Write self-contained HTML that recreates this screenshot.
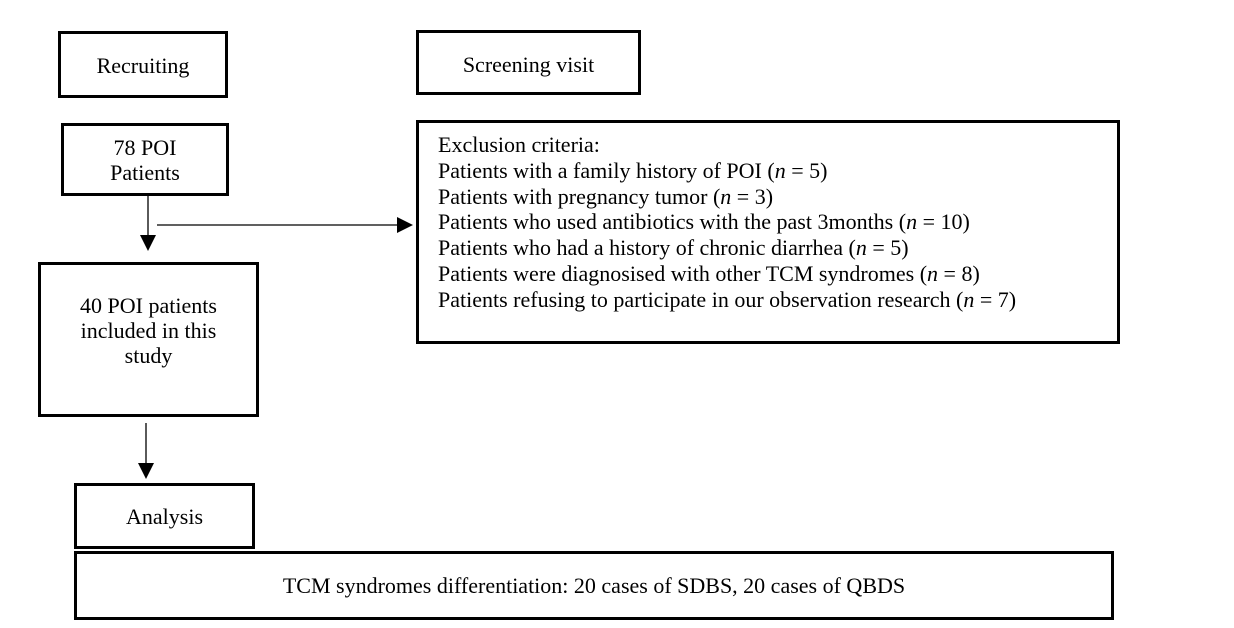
<!DOCTYPE html>
<html><head><style>
body{margin:0;width:1234px;height:628px;background:#fff;position:relative;font-family:"Liberation Serif",serif;font-size:22px;color:#000;overflow:hidden}
.b{position:absolute;border:3px solid #000;box-sizing:border-box;display:flex;align-items:center;justify-content:center;text-align:center;line-height:25px}
.ex{position:absolute;left:416px;top:120px;width:704px;height:224px;border:3px solid #000;box-sizing:border-box;padding:9px 0 0 19px;line-height:25.8px}
</style></head><body>
<div class="b" style="left:58px;top:31px;width:170px;height:67px;padding-top:2px">Recruiting</div>
<div class="b" style="left:416px;top:30px;width:225px;height:65px;padding-top:4px">Screening visit</div>
<div class="b" style="left:61px;top:123px;width:168px;height:73px;padding-top:0px">78 POI<br>Patients</div>
<div class="b" style="left:38px;top:262px;width:221px;height:155px;align-items:flex-start;padding-top:28px">40 POI patients<br>included in this<br>study</div>
<div class="b" style="left:74px;top:483px;width:181px;height:66px;padding-top:1px">Analysis</div>
<div class="b" style="left:74px;top:551px;width:1040px;height:69px;padding-top:0px">TCM syndromes differentiation: 20 cases of SDBS, 20 cases of QBDS</div>
<div class="ex">Exclusion criteria:<br>Patients with a family history of POI (<i>n</i> = 5)<br>Patients with pregnancy tumor (<i>n</i> = 3)<br>Patients who used antibiotics with the past 3months (<i>n</i> = 10)<br>Patients who had a history of chronic diarrhea (<i>n</i> = 5)<br>Patients were diagnosised with other TCM syndromes (<i>n</i> = 8)<br>Patients refusing to participate in our observation research (<i>n</i> = 7)</div>
<svg width="1234" height="628" style="position:absolute;left:0;top:0">
<line x1="148" y1="196" x2="148" y2="236" stroke="#000" stroke-width="1.3"/>
<polygon points="140,235 156,235 148,251" fill="#000"/>
<line x1="157" y1="225" x2="398" y2="225" stroke="#000" stroke-width="1.3"/>
<polygon points="397,217 397,233 413,225" fill="#000"/>
<line x1="146" y1="423" x2="146" y2="464" stroke="#000" stroke-width="1.3"/>
<polygon points="138,463 154,463 146,479" fill="#000"/>
</svg>
</body></html>
